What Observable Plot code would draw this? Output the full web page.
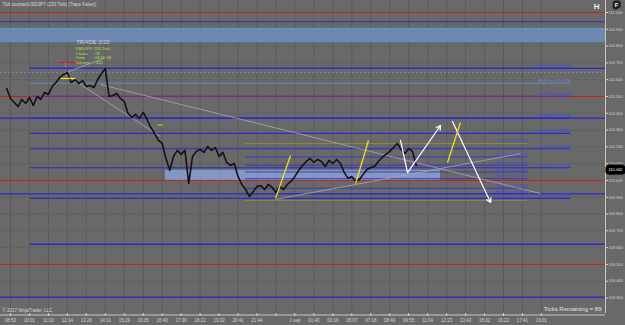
<!DOCTYPE html>
<html><head><meta charset="utf-8">
<script src="https://cdn.jsdelivr.net/npm/d3@7"></script>
<script src="https://cdn.jsdelivr.net/npm/@observablehq/plot@0.6"></script>
<style>html,body{margin:0;padding:0;background:#696969;}svg{display:block}</style>
</head><body><div id="chart"></div>
<script>
// ---- data ----
const barStart = -2, barStep = 2;
const closes = [110.547,110.488,110.464,110.440,110.482,110.458,110.494,110.446,110.500,110.482,
110.524,110.512,110.559,110.583,110.613,110.631,110.643,110.583,110.601,110.577,
110.595,110.559,110.565,110.553,110.601,110.637,110.666,110.500,110.506,110.518,
110.488,110.470,110.399,110.375,110.393,110.369,110.405,110.363,110.315,110.280,
110.238,110.220,110.131,110.060,110.143,110.179,110.155,110.179,109.982,110.143,
110.173,110.185,110.167,110.202,110.179,110.196,110.143,110.167,110.107,110.089,
110.101,110.024,109.976,109.946,109.905,109.934,109.964,109.970,109.946,109.976,
109.958,109.928,109.964,109.946,109.976,109.994,110.024,110.060,110.089,110.113,
110.131,110.107,110.125,110.113,110.083,110.119,110.101,110.125,110.101,110.048,
110.012,110.024,109.994,110.006,110.036,110.065,110.077,110.083,110.113,110.137,
110.155,110.173,110.196,110.220,110.185,110.161,110.190,110.173,110.089];
const priceTicks = [111.0,110.9,110.8,110.7,110.6,110.5,110.4,110.3,110.2,110.1,110.0,109.9,109.8,109.7,109.6,109.5,109.4,109.3];
const timeLabels = ["08:50","10:01","11:10","12:14","13:26","14:31","15:29","16:05","16:40","17:30","18:22","19:32","20:41","21:44","","1 sep","01:40","03:16","05:07","07:18","08:49","09:55","11:04","12:23","13:43","15:02","16:22","17:41","19:01"];
const barsPerLabel = 10;
const redLevels = [111.0, 110.5, 110.0, 109.5];
const blueFullLevels = [110.945, 110.371, 109.920, 109.305];
const blueLongLevels = [110.667, 109.620];
const fibPcts = [0, 23.6, 38.2, 50, 61.8, 78.6, 88.6, 100];
const fib1Low = 109.893, fib1High = 110.667;
const fib2Top = 110.220, fib2Bottom = 109.881;
const band = [110.827, 110.905];
const zonePrices = [110.000, 110.060];
const zoneBars = [81.7, 226.8];
const trendLines = [
  {b1:28, p1:110.637, b2:79, p2:110.262},
  {b1:28, p1:110.637, b2:49.1, p2:110.726},
  {b1:47.5, p1:110.571, b2:279.5, p2:109.922},
  {b1:139.8, p1:109.887, b2:269, p2:110.160}
];
const swingLeg = [{b:205.7, p:110.238},{b:209.4, p:110.047}];
const arrows = [
  {b1:209.4, p1:110.047, b2:226.8, p2:110.327},
  {b1:233.1, p1:110.351, b2:253.2, p2:109.869}
];
const yellowSegs = [
  {b1:139.8, p1:109.893, b2:147.7, p2:110.149},
  {b1:182, p1:109.982, b2:188.8, p2:110.238},
  {b1:230.5, p1:110.107, b2:237.3, p2:110.345},
  {b1:26.4, p1:110.607, b2:34.3, p2:110.607}
];
const redShort = [{b1:25.8, p1:110.702, b2:38.5, p2:110.702}];
const greenShort = [{b1:77.5, p1:110.330, b2:80.5, p2:110.330}];
const infoLines = ["USDJPY 233 Tick", "# bars    : 73", "Time      : 04:16:18", "Volume   : 265"];
const infoPrices = [110.785, 110.756, 110.732, 110.703];
const lastPrice = 110.062;

// ---- derived tables ----
const xMin = -5.27, xMax = 313.8;
const fibStartBar = 10.5, fib1EndBar = 295.4, fib2StartBar = 124, fib2EndBar = 272.7;
const pricePts = closes.map((p,i)=>({b: barStart + i*barStep, p}));
const tickBars = timeLabels.map((_,i)=>i*barsPerLabel);
const fib1 = fibPcts.map(pct=>({pct, price: fib1Low + (fib1High-fib1Low)*pct/100}));
const fib2 = fibPcts.map(pct=>({pct, price: fib2Top - (fib2Top-fib2Bottom)*pct/100}));
const fibColor1 = d => d.pct===78.6 ? "#6628b4" : d.pct===88.6 ? "#6a86c8" : "#2a2ad0";
const fibColor2 = d => (d.pct===0 || d.pct===100) ? "#8c8c3c" : "#3434c4";
const fmt = d => `${d.pct.toFixed(2)} % (${d.price.toFixed(3)})`;

const chart = Plot.plot({
  width: 625, height: 325,
  marginLeft: 0, marginRight: 20, marginTop: 0, marginBottom: 12,
  style: {background: "#696969", fontFamily: "Liberation Sans, Arial, sans-serif"},
  x: {domain: [xMin, xMax], axis: null},
  y: {domain: [109.2077, 111.0714], axis: null},
  marks: [
    Plot.ruleX(tickBars, {stroke: "#5b5b5b", strokeWidth: 1}),
    Plot.ruleY(priceTicks, {stroke: "#5f5f5f", strokeWidth: 0.8}),
    Plot.rect([band], {x1: xMin, x2: xMax, y1: d=>d[0], y2: d=>d[1], fill: "#7088ae"}),
    Plot.ruleY(band, {stroke: "#4f98dc", strokeWidth: 1}),
    Plot.rect([zonePrices], {x1: zoneBars[0], x2: zoneBars[1], y1: d=>d[0], y2: d=>d[1], fill: "#8aa4dc", fillOpacity: 0.8}),
    Plot.ruleY(redLevels, {x1: xMin, x2: xMax, stroke: "#c42222", strokeWidth: 1}),
    Plot.ruleY(blueFullLevels, {x1: xMin, x2: xMax, stroke: "#2a2ad0", strokeWidth: 1.1}),
    Plot.ruleY(blueLongLevels, {x1: fibStartBar, x2: xMax, stroke: "#2a2ad0", strokeWidth: 1.3}),
    Plot.ruleY([110.643], {x1: xMin, x2: xMax, stroke: "#7d93c8", strokeWidth: 0.7, strokeDasharray: "2,2"}),
    Plot.ruleY(fib2, {y: "price", x1: fib2StartBar, x2: fib2EndBar, stroke: fibColor2, strokeWidth: 0.9}),
    Plot.ruleY(fib1, {y: "price", x1: fibStartBar, x2: fib1EndBar, stroke: fibColor1, strokeWidth: 1.2}),
    Plot.text(fib1, {x: fib1EndBar, y: "price", text: fmt, textAnchor: "end", dy: -2.5, fontSize: 4, fill: d=>d.pct===88.6?"#7890d0":"#3546e8"}),
    Plot.text(fib2, {x: fib2EndBar, y: "price", text: fmt, textAnchor: "end", dy: -2.5, fontSize: 4, fill: "#3546e8"}),
    Plot.link(trendLines, {x1: "b1", y1: "p1", x2: "b2", y2: "p2", stroke: "#a9a9a9", strokeWidth: 0.8}),
    Plot.line(pricePts, {x: "b", y: "p", stroke: "#121212", strokeWidth: 1.6}),
    Plot.line(swingLeg, {x: "b", y: "p", stroke: "#ffffff", strokeWidth: 1.2}),
    Plot.arrow(arrows, {x1: "b1", y1: "p1", x2: "b2", y2: "p2", stroke: "#ffffff", strokeWidth: 1.2, headLength: 6}),
    Plot.link(yellowSegs, {x1: "b1", y1: "p1", x2: "b2", y2: "p2", stroke: "#f0e020", strokeWidth: 1.3}),
    Plot.link(redShort, {x1: "b1", y1: "p1", x2: "b2", y2: "p2", stroke: "#d02020", strokeWidth: 1}),
    Plot.link(greenShort, {x1: "b1", y1: "p1", x2: "b2", y2: "p2", stroke: "#60d040", strokeWidth: 1.5}),
    Plot.text(["TRADE 2/20"], {x: 43.5, y: 110.821, text: d=>d, fontSize: 6, fill: "#cfcfcf"}),
    Plot.text(infoLines, {x: 34.3, y: (d,i)=>infoPrices[i], text: d=>d, textAnchor: "start", fontSize: 4.3, fill: "#a6e24e"}),
    Plot.text(["1"], {x: 29, y: 110.684, text: d=>d, fontSize: 4.5, fill: "#ff6ac8"}),
    Plot.ruleX([xMax], {stroke: "#c8c8c8", strokeWidth: 1}),
    Plot.ruleY([109.2077], {x1: xMin, x2: xMax, stroke: "#c8c8c8", strokeWidth: 1, dy: 1.5}),
    Plot.axisY(priceTicks, {anchor: "right", tickSize: 2, tickPadding: 1, fontSize: 4, color: "#d4d4d4", tickFormat: d=>d.toFixed(3)}),
    Plot.axisX(tickBars, {anchor: "bottom", tickSize: 3, tickPadding: 2, fontSize: 4.5, color: "#d4d4d4", tickFormat: d=>timeLabels[Math.round(d/barsPerLabel)]}),
    Plot.text([lastPrice.toFixed(3)], {x: xMax, y: lastPrice, text: d=>d, dx: 10, fontSize: 4, fill: "#ffffff", stroke: "#000000", strokeWidth: 7, paintOrder: "stroke"}),
    Plot.text(["Tick counter(USDJPY (233 Tick) (Trace False))"], {frameAnchor: "top-left", dx: 2, dy: 2, text: d=>d, fontSize: 4.5, fill: "#dcdcdc"}),
    Plot.text(["© 2017 NinjaTrader, LLC"], {frameAnchor: "bottom-left", dx: 2, dy: -2, text: d=>d, fontSize: 4.5, fill: "#dcdcdc"}),
    Plot.text(["Ticks Remaining = 89"], {frameAnchor: "bottom-right", dx: -4, dy: -3, text: d=>d, fontSize: 6, fill: "#e4e4e4"}),
    Plot.text(["H"], {frameAnchor: "top-right", dx: -6, dy: 3, text: d=>d, fontSize: 8, fontWeight: "bold", fill: "#f0f0f0"}),
    Plot.text(["F"], {frameAnchor: "top-right", dx: 13, dy: 2, text: d=>d, fontSize: 6, fontWeight: "bold", fill: "#ffffff", stroke: "#1e1e1e", strokeWidth: 5, paintOrder: "stroke"})
  ]
});
document.getElementById("chart").appendChild(chart);
</script>
</body></html>
